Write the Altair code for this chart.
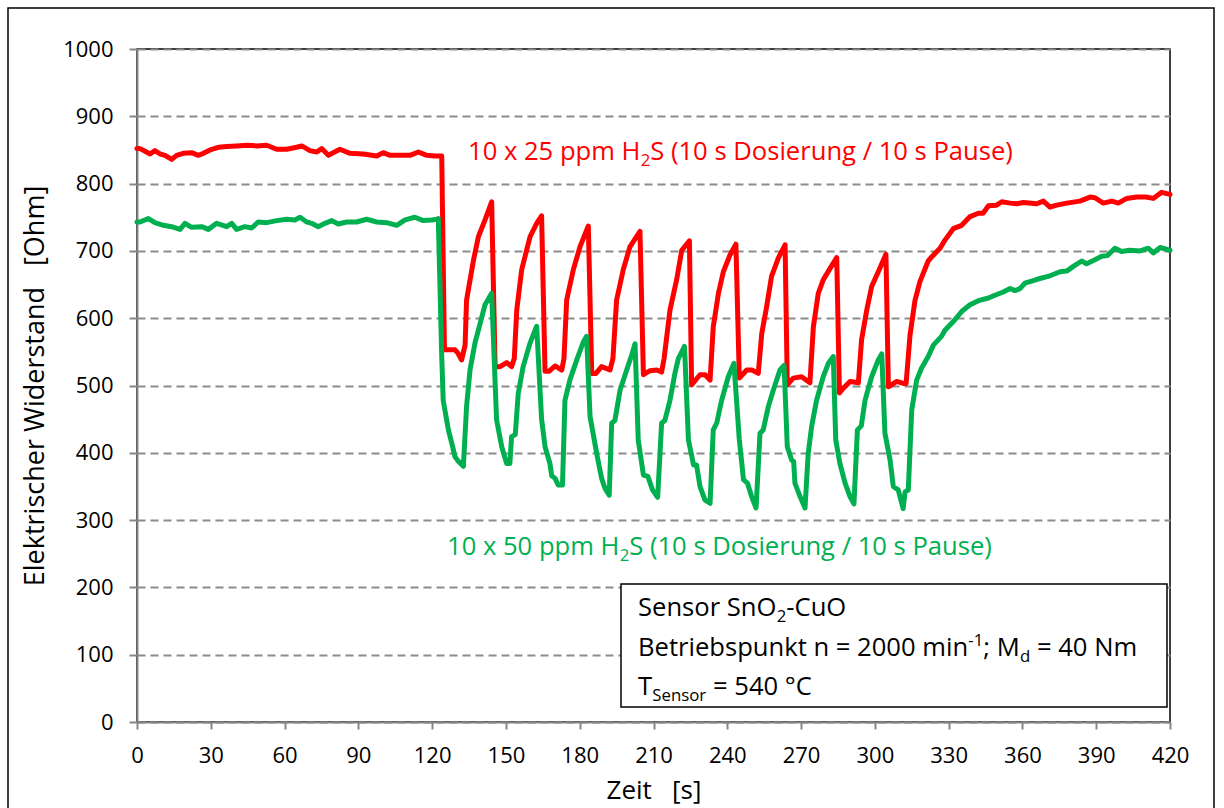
import altair as alt
import pandas as pd

# ---------------- data ----------------
red_t = [0, 1.2, 3.3, 5.3, 7.3, 9.4, 11.4, 14.1, 16.1, 18.8, 22.2, 24.9, 27.0, 29.7, 33.1, 36.5,
         40.5, 44.6, 48.7, 52.7, 56.8, 60.9, 64.9, 67.0, 70.3, 73.1, 75.1, 77.8, 82.5, 86.6,
         92.0, 97.5, 100.1, 102.9, 108.3, 111.0, 114.4, 117.8, 121.2, 123.9,
         125.0, 127.0, 129.3, 130.5, 132.0, 133.4, 134.0, 136.8, 138.8, 141.5, 144.2,
         145.6, 147.6, 150.3, 152.3, 153.4, 154.4, 156.4, 159.8, 162.5, 164.5,
         165.9, 167.5, 170.0, 172.7, 173.6, 174.7, 177.4, 180.1, 183.5,
         184.9, 186.6, 188.9, 192.3, 193.5, 195.0, 197.7, 200.4, 204.5,
         205.9, 208.6, 211.3, 213.3, 214.3, 216.7, 219.4, 221.5, 224.6,
         225.5, 228.9, 231.0, 233.0, 234.3, 236.4, 238.4, 241.1, 243.5,
         244.9, 247.9, 250.0, 252.6, 254.0, 256.0, 258.0, 260.7, 263.5,
         264.4, 266.8, 270.2, 273.6, 275.0, 277.0, 279.0, 281.8, 284.5,
         285.6, 287.2, 289.9, 293.3, 294.6, 296.7, 298.7, 301.4, 304.5,
         305.5, 308.9, 311.5, 312.7, 314.3, 316.3, 318.3, 319.7, 321.7, 323.1, 326.5,
         328.5, 331.9, 335.3, 338.7, 342.1, 344.0, 346.2, 349.5, 351.6, 355.0, 357.7,
         360.4, 365.8, 368.5, 371.2, 373.9, 378.0, 383.4, 387.5, 389.5, 392.9, 396.3,
         399.0, 402.4, 406.4, 410.2, 413.2, 416.6, 420.0]
red_v = [852, 852, 848, 844, 849, 844, 842, 836, 842, 845, 846, 842, 845, 850, 854, 855,
         856, 857, 856, 857, 851, 851, 854, 856, 849, 847, 852, 842, 851, 845,
         844, 841, 846, 842, 842, 842, 847, 842, 841, 841,
         553, 553, 553, 548, 538, 560, 627, 686, 721, 746, 773,
         528, 528, 534, 528, 540, 612, 672, 721, 741, 752,
         521, 521, 529, 523, 540, 627, 672, 706, 737,
         518, 518, 528, 523, 540, 627, 672, 706, 729,
         516, 522, 523, 520, 540, 612, 657, 701, 715,
         501, 516, 516, 508, 587, 637, 669, 694, 710,
         511, 523, 523, 518, 577, 617, 662, 689, 709,
         501, 511, 513, 504, 587, 637, 657, 674, 690,
         489, 496, 506, 504, 568, 612, 647, 669, 695,
         498, 506, 503, 503, 575, 626, 654, 667, 685, 691, 704,
         716, 733, 738, 751, 756, 756, 767, 768, 773, 771, 770,
         772, 770, 774, 765, 768, 771, 774, 780, 779, 771, 774,
         771, 778, 780, 780, 778, 787, 784]

green_t = [0, 1.2, 4.6, 7.3, 10.7, 14.1, 17.5, 19.5, 22.2, 26.3, 29.0, 32.4, 36.5, 38.5,
           40.5, 43.9, 46.6, 49.3, 52.7, 56.8, 60.9, 64.2, 66.3, 69.0, 71.0, 73.7, 76.4,
           79.2, 81.8, 85.3, 89.3, 93.4, 97.5, 101.5, 105.6, 109.0, 113.0, 116.4, 119.8,
           121.9, 122.5,
           123.9, 124.5, 126.6, 128.0, 129.3, 130.5, 132.7, 134.0, 135.4, 137.4, 139.5, 141.5, 144.2,
           146.2, 148.3, 150.3, 151.6, 152.3, 153.8, 155.0, 157.0, 159.8, 162.5,
           164.5, 165.9, 167.9, 168.6, 170.0, 171.3, 173.0, 174.0, 176.0, 178.8, 181.5, 182.8,
           184.2, 186.9, 188.9, 190.3, 192.0, 193.0, 194.3, 196.4, 199.1, 201.1, 202.5,
           203.8, 205.9, 207.7, 209.6, 211.7, 213.3, 214.6, 216.7, 218.7, 220.1, 222.6,
           224.2, 226.3, 227.5, 228.9, 230.9, 233.0, 234.3, 235.7, 237.7, 240.4, 242.7,
           244.9, 246.6, 248.2, 249.9, 251.7, 253.3, 254.6, 256.7, 258.7, 261.4, 263.1,
           264.4, 266.2, 267.0, 267.5, 269.6, 271.6, 272.9, 274.3, 276.3, 279.0, 281.1, 283.1,
           284.1, 285.8, 287.9, 289.9, 291.5, 292.9, 294.5, 296.0, 298.7, 301.4, 302.8,
           304.1, 306.2, 307.5, 309.5, 311.5, 312.3, 313.6, 315.0, 317.0, 319.0, 321.7, 323.8,
           327.1, 328.5, 331.9, 335.3, 338.7, 342.1, 346.2, 348.8, 352.2, 355.0, 357.0, 359.0,
           361.0, 364.4, 367.1, 371.2, 375.3, 378.0, 380.7, 384.1, 386.1, 389.5, 392.2, 394.5,
           397.6, 400.3, 403.7, 407.8, 411.2, 413.2, 416.0, 420.0]
green_v = [743, 743, 748, 742, 738, 736, 732, 741, 735, 736, 732, 741, 736, 741,
           732, 736, 734, 743, 742, 745, 747, 746, 750, 743, 741, 736, 741,
           745, 740, 743, 743, 747, 743, 742, 738, 746, 750, 745, 746,
           747, 748,
           543, 478, 434, 414, 394, 388, 380, 469, 523, 563, 592, 620, 637,
           449, 409, 384, 384, 424, 427, 488, 528, 563, 588,
           450, 409, 384, 366, 362, 352, 352, 478, 508, 538, 565, 573,
           454, 399, 362, 347, 337, 444, 448, 493, 523, 545, 562,
           419, 367, 365, 345, 334, 444, 448, 478, 518, 540, 558,
           419, 382, 382, 350, 330, 325, 434, 444, 478, 513, 533,
           419, 360, 355, 335, 318, 429, 434, 469, 493, 523, 530,
           409, 389, 387, 355, 335, 318, 399, 439, 478, 513, 533, 543,
           419, 384, 355, 335, 324, 434, 440, 478, 513, 538, 547,
           429, 389, 350, 345, 317, 342, 345, 464, 508, 526, 543, 560,
           573, 582, 595, 610, 620, 626, 630, 634, 639, 644, 641, 644,
           652, 656, 659, 663, 669, 670, 677, 685, 681, 687, 692, 693,
           704, 699, 701, 700, 704, 697, 705, 701]

x_ticks = list(range(0, 421, 30))
y_ticks = list(range(0, 1001, 100))

RED = "#FF0000"
GREEN = "#00B050"
FONT = "Open Sans"

# ---------------- layout (pixels) ----------------
W, H = 1033, 673
F, FS = 25.6, 16.8  # annotation font size and sub/superscript size

# approximate Open Sans advance widths (em) used to chain text pieces
ADV = {" ": .26, "-": .322, "/": .367, "(": .295, ")": .295, ";": .268, "=": .572,
       "°": .428, "A": .633, "B": .635, "C": .631, "D": .722, "E": .556, "H": .74,
       "M": .903, "N": .754, "O": .78, "P": .605, "S": .547, "T": .558,
       "a": .579, "b": .613, "c": .492, "d": .613, "e": .567, "g": .544, "h": .614,
       "i": .253, "k": .526, "m": .93, "n": .614, "o": .604, "p": .613, "r": .408,
       "s": .477, "t": .353, "u": .614, "x": .52}


def adv(s, size):
    return sum(ADV.get(ch, .572) for ch in s) * size


def pieces(parts, x0, y0, color):
    rows, x = [], x0
    for text, kind in parts:
        size = F if kind == "n" else FS
        dy = {"n": 0, "sub": 6, "sup": -10}[kind]
        stripped = text.lstrip(" ")
        lead = len(text) - len(stripped)
        rows.append({"x": x + adv(" " * lead, size), "y": y0 + dy, "text": stripped,
                     "size": size, "color": color})
        x += adv(text, size)
    return rows


ann_rows = []
ann_rows += pieces([("10 x 25 ppm H", "n"), ("2", "sub"), ("S (10 s Dosierung / 10 s Pause)", "n")],
                   331, 111, RED)
ann_rows += pieces([("10 x 50 ppm H", "n"), ("2", "sub"), ("S (10 s Dosierung / 10 s Pause)", "n")],
                   310, 506, GREEN)
ann_rows += pieces([("Sensor SnO", "n"), ("2", "sub"), ("-CuO", "n")], 501, 567, "black")
ann_rows += pieces([("Betriebspunkt n = 2000 min", "n"), ("-1", "sup"), ("; M", "n"),
                    ("d", "sub"), (" = 40 Nm", "n")], 501, 607, "black")
ann_rows += pieces([("T", "n"), ("Sensor", "sub"), (" = 540 °C", "n")], 501, 646, "black")
ann_df = pd.DataFrame(ann_rows)

red_df = pd.DataFrame({"t": red_t, "v": red_v})
green_df = pd.DataFrame({"t": green_t, "v": green_v})
one = pd.DataFrame({"a": [0]})

x_enc = alt.X("t:Q", scale=alt.Scale(domain=[0, 420], nice=False, zero=False),
              axis=alt.Axis(values=x_ticks, title="Zeit\u00a0\u00a0\u00a0[s]", grid=False,
                            titleX=W / 2, titleY=76, titleAlign="center",
                            titleBaseline="alphabetic", labelPadding=16, tickSize=7,
                            labelFlush=False, format="d"))
y_enc = alt.Y("v:Q", scale=alt.Scale(domain=[0, 1000], nice=False),
              axis=alt.Axis(values=y_ticks, title="Elektrischer Widerstand\u00a0\u00a0\u00a0[Ohm]",
                            grid=True, gridDash=[8, 5], gridColor="#8c8c8c", gridWidth=2,
                            titleX=-102, titleY=H / 2, titleAlign="center", titleAngle=270,
                            titleBaseline="middle", labelPadding=16, tickSize=8,
                            labelFlush=False, format="d", titleFontSize=27))

box = alt.Chart(one).mark_rect(fill="white", stroke="black", strokeWidth=1.5).encode(
    x=alt.value(484), x2=alt.value(1030), y=alt.value(535), y2=alt.value(658))

red_line = alt.Chart(red_df).mark_line(color=RED, strokeWidth=5, strokeJoin="round",
                                       strokeCap="round").encode(x=x_enc, y=y_enc)
green_line = alt.Chart(green_df).mark_line(color=GREEN, strokeWidth=5, strokeJoin="round",
                                           strokeCap="round").encode(x="t:Q", y="v:Q")

ann = alt.Chart(ann_df).mark_text(align="left", baseline="alphabetic", font=FONT).encode(
    x=alt.X("x:Q", scale=None, axis=None),
    y=alt.Y("y:Q", scale=None, axis=None),
    text="text:N",
    size=alt.Size("size:Q", scale=None, legend=None),
    color=alt.Color("color:N", scale=None, legend=None))

frame = alt.Chart(one).mark_rect(fillOpacity=0, stroke="black", strokeWidth=1.5).encode(
    x=alt.value(-129), x2=alt.value(1077), y=alt.value(-41), y2=alt.value(780))

chart = alt.layer(box, red_line, green_line, ann, frame).properties(
    width=W, height=H,
    padding={"left": 137, "top": 49, "right": 54, "bottom": 86},
    autosize=alt.AutoSizeParams(type="none"),
    background="white",
).configure_view(stroke="black", strokeWidth=1.5).configure_axis(
    labelFont=FONT, labelFontSize=22, labelColor="black",
    titleFont=FONT, titleFontSize=26, titleColor="black", titleFontWeight="normal",
    domainColor="#868686", domainWidth=2, tickColor="#868686", tickWidth=2,
)

chart.save("out.html", embed_options={"renderer": "svg", "actions": False})
